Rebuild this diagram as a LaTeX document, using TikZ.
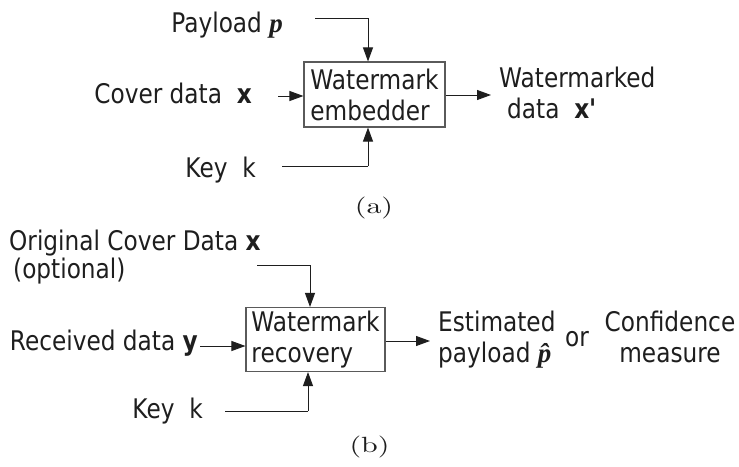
\documentclass[tikz,border=0pt]{standalone}
\usepackage{fontspec}
\setmainfont{DejaVu Sans}[FakeStretch=0.86]
\newfontfamily\pfont{Liberation Serif}
\usetikzlibrary{arrows.meta}
\definecolor{ink}{HTML}{1E1E1E}
\definecolor{boxgray}{HTML}{5A5A5A}
\newcommand{\pvar}{{\pfont\bfseries\itshape p}}
% roman panel labels at 10pt, enlarged by the node transform below
\newcommand{\panellabel}[1]{{\fontencoding{OT1}\fontfamily{lmr}\selectfont #1}}
\tikzset{
  lbl/.style={inner sep=0pt, text=ink, font=\fontsize{27}{31}\selectfont},
  blk/.style={draw=boxgray, line width=1.1pt, inner sep=0pt, align=left,
              text=ink, font=\fontsize{27}{31}\selectfont},
  subcap/.style={inner sep=0pt, text=ink, anchor=base,
                 xscale=3.0, yscale=2.2, transform shape},
  flow/.style={draw=ink, line width=0.9pt, -{Triangle[length=14pt,width=10pt]}},
  wire/.style={draw=ink, line width=0.9pt},
}
\begin{document}
\begin{tikzpicture}[x=1pt,y=-1pt]
\useasboundingbox (0,0) rectangle (739,466);

% ---------- (a) embedding ----------
\node[blk, minimum width=141pt, minimum height=65pt] (emb) at (374.5,94.5)
  {Watermark\\embedder};
\node[lbl, anchor=base east] (pay) at (283,32) {Payload \pvar};
\node[lbl, anchor=base east] (cov) at (252,103) {Cover data~~\textbf{x}};
\node[lbl, anchor=base east] (keya) at (256,177) {Key~~k};
\node[lbl, anchor=base west, align=left] (wmd) at (499,118)
  {Watermarked\\\hspace*{8pt}data~~\textbf{x\textquotesingle}};
\node[subcap] (capa) at (374,213) {\panellabel{(a)}};

\coordinate (payS) at (315,18);
\coordinate (payC) at (368,18);
\coordinate (covS) at (278,96);
\coordinate (keyaS) at (282,166);
\coordinate (keyaC) at (368,166);
\coordinate (outA) at (491,95);

\draw[wire] (payS) -- (payC);
\draw[flow] (payC) -- (payC |- emb.north);
\draw[flow] (covS) -- (covS -| emb.west);
\draw[wire] (keyaS) -- (keyaC);
\draw[flow] (keyaC) -- (keyaC |- emb.south);
\draw[flow] (emb.east |- outA) -- (outA);

% ---------- (b) recovery ----------
\node[blk, minimum width=139pt, minimum height=64pt] (rec) at (315.5,339.5)
  {Watermark\\recovery};
\node[lbl, anchor=base west, align=left,
      font=\fontsize{27}{28}\selectfont] (orig) at (9,278)
  {Original Cover Data \textbf{x}\\\hspace*{4pt}(optional)};
\node[lbl, anchor=base east] (rcv) at (198,350) {Received data \textbf{y}};
\node[lbl, anchor=base east] (keyb) at (203,418) {Key~~k};
\node[lbl, anchor=base west, align=left] (est) at (438,362)
  {Estimated\\payload {\pfont\bfseries\itshape \^{p}}};
\node[lbl, anchor=base west] (orw) at (565,346) {or};
\node[lbl, anchor=base, align=center] (conf) at (670,362)
  {Confidence\\measure};
\node[subcap] (capb) at (369.5,452.5) {\panellabel{(b)}};

\coordinate (origS) at (257,265);
\coordinate (origC) at (310,265);
\coordinate (rcvS) at (200,346);
\coordinate (keybS) at (225,411);
\coordinate (keybC) at (308,411);
\coordinate (outB) at (430,341);

\draw[wire] (origS) -- (origC);
\draw[flow] (origC) -- (origC |- rec.north);
\draw[flow] (rcvS) -- (rcvS -| rec.west);
\draw[wire] (keybS) -- (keybC);
\draw[flow] (keybC) -- (keybC |- rec.south);
\draw[flow] (rec.east |- outB) -- (outB);
\end{tikzpicture}
\end{document}
